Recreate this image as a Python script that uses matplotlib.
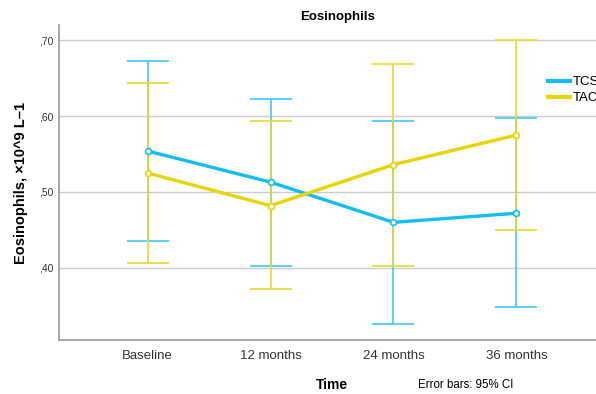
import matplotlib.pyplot as plt
from matplotlib.ticker import FuncFormatter

plt.rcParams['font.family'] = ['Liberation Sans', 'DejaVu Sans']

timepoints = ["Baseline", "12 months", "24 months", "36 months"]
groups = ["TCS", "TAC"]
tcs_mean = [0.554, 0.513, 0.460, 0.472]
tcs_lower = [0.436, 0.402, 0.326, 0.348]
tcs_upper = [0.673, 0.623, 0.594, 0.598]
tac_mean = [0.525, 0.482, 0.536, 0.575]
tac_lower = [0.406, 0.372, 0.402, 0.450]
tac_upper = [0.644, 0.593, 0.669, 0.700]
colors = {"TCS": "#12BDF4", "TAC": "#E6D500"}
bar_colors = {"TCS": "#3CCBF6", "TAC": "#E4DB2C"}

fig = plt.figure(figsize=(5.96, 3.94), dpi=100)
ax = fig.add_axes([59 / 596, 1 - 340 / 394, 546 / 596, 315 / 394])

x = list(range(len(timepoints)))
series = {"TCS": (tcs_mean, tcs_lower, tcs_upper), "TAC": (tac_mean, tac_lower, tac_upper)}
for g in groups:
    m, lo, hi = series[g]
    err = [[a - b for a, b in zip(m, lo)], [b - a for a, b in zip(m, hi)]]
    ax.errorbar(x, m, yerr=err, fmt='none', ecolor=bar_colors[g], elinewidth=1.2,
                capsize=15, capthick=1.2, zorder=2)
for g in groups:
    m = series[g][0]
    ax.plot(x, m, color=colors[g], lw=2.4, marker='o', ms=4.2, mfc='white',
            mec=colors[g], mew=1.2, label=g, zorder=3)

ax.set_xlim(-0.72, 3.72)
ax.set_ylim(0.305, 0.72)
ax.set_yticks([0.4, 0.5, 0.6, 0.7])
ax.yaxis.set_major_formatter(FuncFormatter(lambda v, p: f"{v:.2f}".lstrip('0').replace('.', ',')))
ax.set_xticks(x)
ax.set_xticklabels(timepoints, fontsize=9.5, color='#333333')
ax.tick_params(axis='y', labelsize=7.5, colors='#333333', length=0, pad=4)
ax.tick_params(axis='x', length=0, pad=7)
ax.grid(axis='y', color='#cccccc', lw=1)
ax.set_axisbelow(True)
for s in ['top', 'right']:
    ax.spines[s].set_visible(False)
for s in ['left', 'bottom']:
    ax.spines[s].set_color('#999999')
    ax.spines[s].set_linewidth(1.2)

ax.set_ylabel("Eosinophils, ×10^9 L–1", fontsize=10.5, fontweight='bold', labelpad=8)
fig.text(338 / 596, 1 - 17 / 394, "Eosinophils", ha='center', va='center',
         fontsize=9.5, fontweight='bold')
fig.text(332 / 596, 1 - 385 / 394, "Time", ha='center', va='center',
         fontsize=10, fontweight='bold')
fig.text(418 / 596, 1 - 385 / 394, "Error bars: 95% CI", ha='left', va='center',
         fontsize=8.3)

ax.legend(loc='upper left', bbox_to_anchor=(548 / 596, 1 - 76 / 394),
          bbox_transform=fig.transFigure, frameon=False, fontsize=9.5,
          handlelength=1.7, handletextpad=0.15, labelspacing=0.3,
          borderpad=0, borderaxespad=0)
for h in ax.get_legend().legend_handles:
    h.set_marker('')
    h.set_linewidth(3)

fig.savefig("out.png", dpi=100)
